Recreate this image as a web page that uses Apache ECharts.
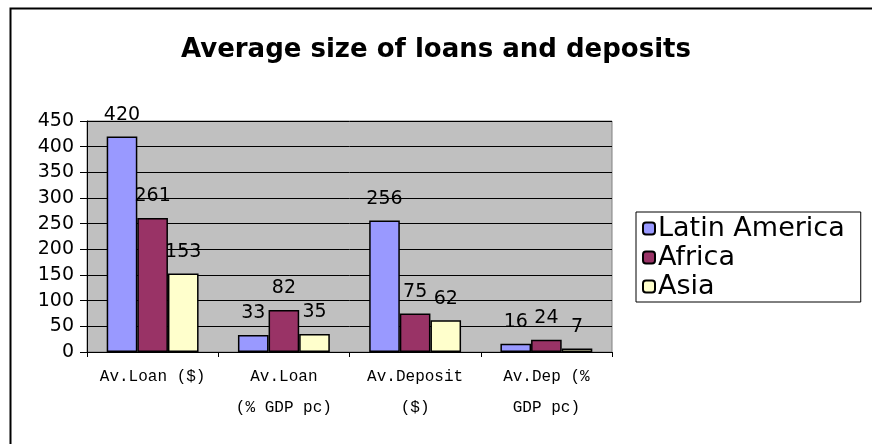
<!DOCTYPE html>
<html>
<head>
<meta charset="utf-8">
<script src="https://cdn.jsdelivr.net/npm/echarts@6/dist/echarts.min.js"></script>
<style>
  html, body { margin: 0; padding: 0; background: #fff; }
  #main { width: 872px; height: 444px; }
</style>
</head>
<body>
<div id="main"></div>
<script>
const categories = ['Av.Loan ($)', 'Av.Loan\n(% GDP pc)', 'Av.Deposit\n($)', 'Av.Dep (%\nGDP pc)'];
const latinAmerica = [420, 33, 256, 16];
const africa = [261, 82, 75, 24];
const asia = [153, 35, 62, 7];

// wide sans to mimic the stretched Excel text
const font = 'DejaVu Sans, sans-serif';

const makeSeries = (name, data, color) => ({
  name: name,
  type: 'bar',
  data: data,
  barGap: '0%',
  barCategoryGap: '30%',
  itemStyle: { color: color, borderColor: '#000', borderWidth: 1.5 },
  label: {
    show: true,
    position: 'top',
    distance: 12,
    color: '#000',
    fontFamily: font,
    fontSize: 19
  }
});

const chart = echarts.init(document.getElementById('main'));
chart.setOption({
  animation: false,
  backgroundColor: '#fff',
  title: {
    text: 'Average size of loans and deposits',
    left: 'center',
    top: 32,
    textStyle: { fontFamily: font, fontSize: 26, fontWeight: 'bold', color: '#000' }
  },
  graphic: [{
    type: 'rect',
    left: 8,
    top: 6,
    shape: { width: 900, height: 500 },
    style: { fill: 'none', stroke: '#000', lineWidth: 2 },
    silent: true
  }],
  legend: {
    orient: 'vertical',
    left: 636,
    top: 212,
    itemWidth: 12,
    itemHeight: 12,
    itemGap: 2,
    padding: [3, 16, 2, 6],
    borderColor: '#000',
    borderWidth: 1,
    textStyle: { fontFamily: font, fontSize: 27, color: '#000', padding: [0, 0, 0, -2] },
    data: ['Latin America', 'Africa', 'Asia']
  },
  grid: {
    left: 87,
    right: 260,
    top: 121,
    bottom: 92,
    show: true,
    backgroundColor: '#C0C0C0',
    borderColor: '#808080',
    borderWidth: 1
  },
  xAxis: {
    type: 'category',
    data: categories,
    axisLine: { lineStyle: { color: '#000', width: 1 } },
    axisTick: { show: true, alignWithLabel: false, length: 5, lineStyle: { color: '#000' } },
    axisLabel: {
      color: '#000',
      fontFamily: 'Liberation Mono, monospace',
      fontSize: 16,
      lineHeight: 31,
      margin: 9,
      interval: 0
    }
  },
  yAxis: {
    type: 'value',
    min: 0,
    max: 450,
    interval: 50,
    axisLine: { show: true, lineStyle: { color: '#000', width: 1 } },
    axisTick: { show: true, length: 7, lineStyle: { color: '#000' } },
    splitLine: { lineStyle: { color: '#000', width: 1 } },
    axisLabel: { color: '#000', fontFamily: font, fontSize: 19, margin: 13 }
  },
  series: [
    makeSeries('Latin America', latinAmerica, '#9999FF'),
    makeSeries('Africa', africa, '#993366'),
    makeSeries('Asia', asia, '#FFFFCC')
  ]
});
</script>
</body>
</html>
